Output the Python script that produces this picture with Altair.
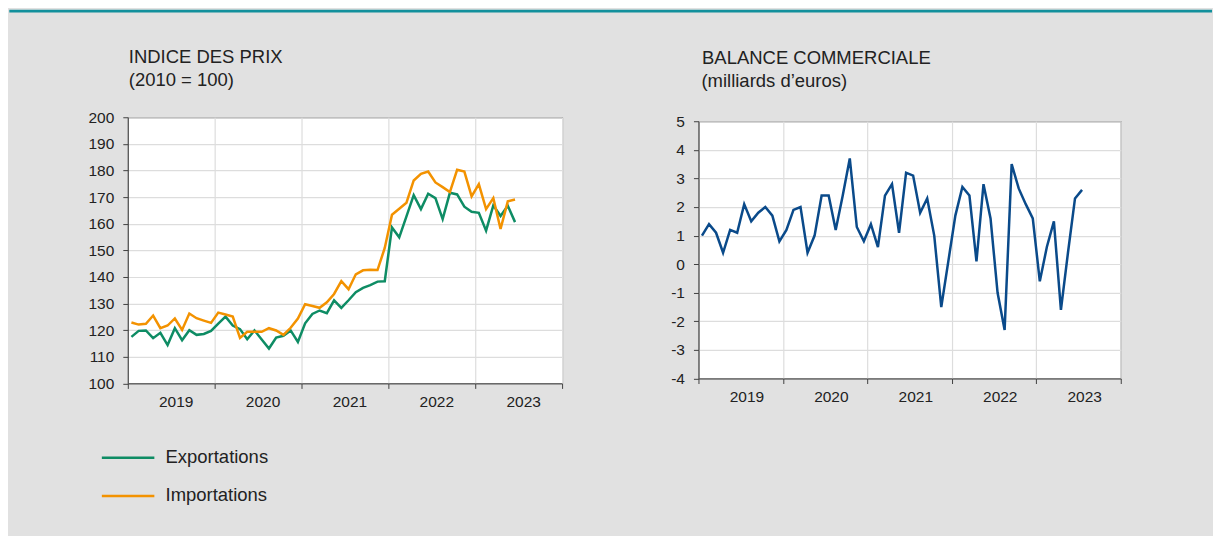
import altair as alt
import pandas as pd

# ---------------- data ----------------
first_year = 2019
years = [2019, 2020, 2021, 2022, 2023]
series_names = ["Exportations", "Importations"]
series_colors = ["#0e8c64", "#f39200"]
balance_color = "#0a4a8a"
teal = "#12909c"

# Prix (2010 = 100), mensuel janv. 2019 -> juin 2023
exportations = [117.5, 119.75, 119.9, 117.0, 119.0, 114.4, 120.75, 116.25, 120.0, 118.25, 118.6, 119.75,
                122.5, 125.1, 121.75, 120.4, 116.6, 119.9, 116.5, 113.1, 117.25, 117.9, 119.9, 115.6,
                122.6, 126.1, 127.4, 126.4, 131.2, 128.4, 131.25, 134.25, 135.9, 136.9, 138.25, 138.4,
                158.6, 154.9, 162.75, 170.75, 165.5, 171.25, 169.6, 161.75, 171.6, 171.0, 166.4, 164.5,
                164.1, 157.4, 166.9, 162.9, 166.75, 160.6]
importations = [122.9, 122.1, 122.4, 125.5, 120.75, 121.75, 124.4, 120.1, 126.25, 124.5, 123.6, 122.75,
                126.6, 125.9, 125.1, 117.1, 119.4, 119.4, 119.4, 120.75, 119.9, 118.25, 120.9, 124.4,
                129.75, 129.1, 128.4, 130.5, 133.6, 138.4, 135.4, 141.0, 142.5, 142.75, 142.6, 150.9,
                163.4, 165.6, 167.9, 176.25, 178.75, 179.6, 175.5, 173.75, 171.9, 180.25, 179.6, 170.25,
                174.9, 165.5, 169.6, 158.0, 168.4, 169.1]
# Balance commerciale (milliards d'euros), mensuel janv. 2019 -> juil. 2023
balance = [1.0, 1.4, 1.1, 0.4, 1.2, 1.1, 2.1, 1.5, 1.8, 2.0, 1.7, 0.8,
           1.2, 1.9, 2.0, 0.4, 1.0, 2.4, 2.4, 1.2, 2.4, 3.7, 1.3, 0.8,
           1.4, 0.6, 2.4, 2.8, 1.1, 3.2, 3.1, 1.8, 2.3, 1.0, -1.5, 0.1,
           1.7, 2.7, 2.4, 0.1, 2.8, 1.6, -1.0, -2.3, 3.5, 2.65, 2.1, 1.6,
           -0.6, 0.6, 1.5, -1.6, 0.4, 2.3, 2.6]

price_ticks = list(range(100, 201, 10))
balance_ticks = list(range(-4, 6))
year_ticks = [0, 12, 24, 36, 48, 60]  # months since Jan 2019

title_left = ["INDICE DES PRIX", "(2010 = 100)"]
title_right = ["BALANCE COMMERCIALE", "(milliards d\u2019euros)"]


def months(n):
    d = pd.date_range("2019-01-01", periods=n, freq="MS")
    return d, [(x.year - first_year) * 12 + (x.month - 1) + 0.5 for x in d]


d1, t1 = months(len(exportations))
price_df = pd.concat([
    pd.DataFrame({"mois": d1, "t": t1, "serie": series_names[0], "valeur": exportations}),
    pd.DataFrame({"mois": d1, "t": t1, "serie": series_names[1], "valeur": importations}),
])
d2, t2 = months(len(balance))
bal_df = pd.DataFrame({"mois": d2, "t": t2, "valeur": balance})

FONT = "Liberation Sans"
TXT = "#222222"

W1, H1 = 435, 266.6
W2, H2 = 423, 257.7


def x_axis():
    return alt.Axis(values=year_ticks, title=None, grid=True, tickSize=5,
                    labelExpr="datum.value < 60 ? '' + (%d + datum.value / 12) : ''" % first_year,
                    labelOffset=48, labelPadding=6, labelAlign="center",
                    labelFlush=False, labelOverlap=False)


def text_layer(txt, x, y, **kw):
    return alt.Chart(pd.DataFrame({"txt": [txt]})).mark_text(
        align="left", baseline="alphabetic", font=FONT, fontSize=18.5, color=TXT, **kw
    ).encode(x=alt.value(x), y=alt.value(y), text="txt:N")


# ---------------- left chart ----------------
x_left = alt.X("t:Q", scale=alt.Scale(domain=[0, 60], nice=False, zero=False), axis=x_axis())
y_left = alt.Y("valeur:Q", scale=alt.Scale(domain=[100, 200], nice=False, zero=False),
               axis=alt.Axis(values=price_ticks, title=None, grid=True, tickSize=5,
                             labelPadding=9, labelFlush=False, labelOverlap=False))

lines_left = alt.Chart(price_df).mark_line(strokeWidth=2.5).encode(
    x=x_left, y=y_left,
    color=alt.Color("serie:N", scale=alt.Scale(domain=series_names, range=series_colors), legend=None),
)

teal_bar = alt.Chart(pd.DataFrame({"a": [0]})).mark_rect(color=teal).encode(
    x=alt.value(-118.7), x2=alt.value(1086.0), y=alt.value(-107.7), y2=alt.value(-105.0)
)

legend_layers = []
leg_y = [341.0, 379.3]
leg_base = [346.0, 384.6]
for i, name in enumerate(series_names):
    legend_layers.append(
        alt.Chart(pd.DataFrame({"s": [name]})).mark_rule(strokeWidth=2.5, color=series_colors[i]).encode(
            x=alt.value(-26), x2=alt.value(26.6), y=alt.value(leg_y[i]))
    )
    legend_layers.append(
        alt.Chart(pd.DataFrame({"s": [name]})).mark_text(
            align="left", baseline="alphabetic", font=FONT, fontSize=18.5, color=TXT
        ).encode(x=alt.value(37.8), y=alt.value(leg_base[i]), text="s:N")
    )

left = alt.layer(
    teal_bar,
    lines_left,
    text_layer(title_left[0], 1, -54.5),
    text_layer(title_left[1], 1, -31.0),
    *legend_layers,
).properties(width=W1, height=H1)

# ---------------- right chart ----------------
x_right = alt.X("t:Q", scale=alt.Scale(domain=[0, 60], nice=False, zero=False), axis=x_axis())
y_right = alt.Y("valeur:Q", scale=alt.Scale(domain=[-4, 5], nice=False, zero=False),
                axis=alt.Axis(values=balance_ticks, title=None, grid=True, tickSize=5,
                              labelPadding=9, labelFlush=False, labelOverlap=False,
                              labelExpr="'' + datum.value"))

line_right = alt.Chart(bal_df).mark_line(strokeWidth=2.5, color=balance_color).encode(
    x=x_right, y=y_right
)

right = alt.layer(
    line_right,
    text_layer(title_right[0], 3.6, -57.8),
    text_layer(title_right[1], 3.0, -34.3),
).properties(width=W2, height=H2)

spacer = alt.Chart(pd.DataFrame({"a": [0]})).mark_point(opacity=0, size=1).properties(
    width=W2, height=3.3, view=alt.ViewBackground(stroke="transparent", fill="transparent")
)

right_col = alt.vconcat(spacer, right, spacing=0, bounds="flush")

chart = alt.hconcat(left, right_col, spacing=136.6, bounds="flush").properties(
    background="#e1e1e1",
    padding={"left": 0, "top": 0, "right": 0, "bottom": 30},
).configure_view(
    fill="white", stroke="#404040", strokeWidth=1
).configure_axis(
    labelFont=FONT, labelFontSize=15.5, labelColor=TXT,
    domainColor="#404040", tickColor="#404040",
    gridColor="#dddddd", gridWidth=1.2,
)

chart.save("out.html", embed_options={"renderer": "svg", "actions": False})
